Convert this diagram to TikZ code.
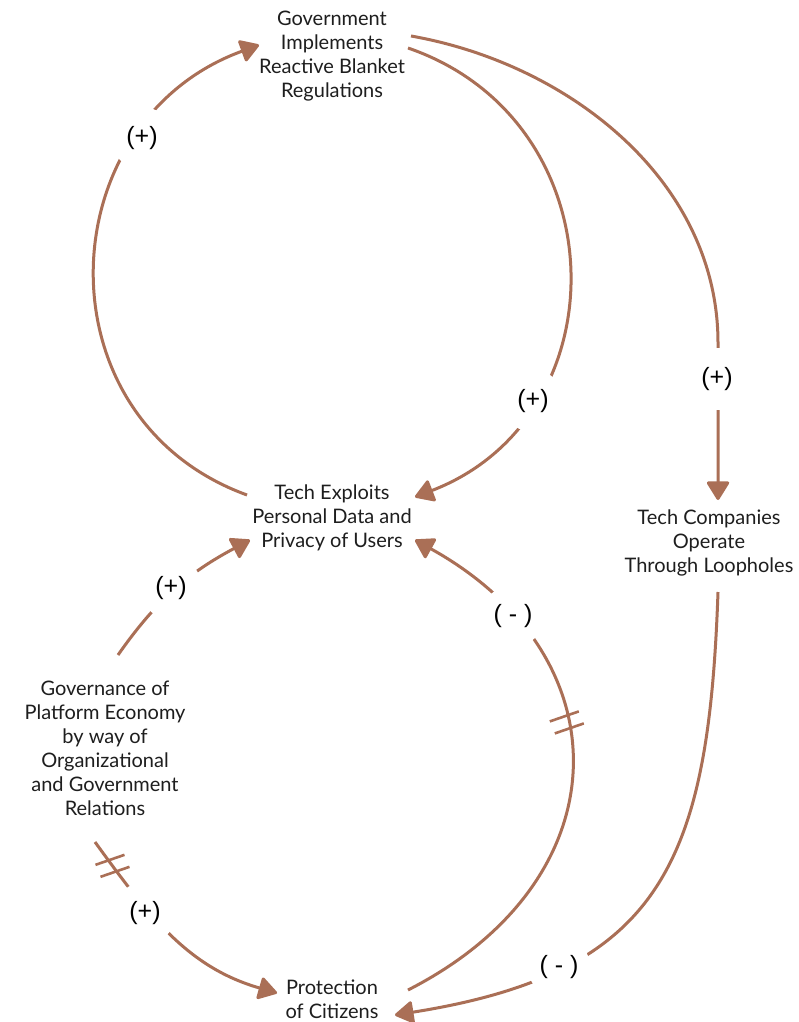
\documentclass[tikz,border=0pt]{standalone}
\usepackage{fontspec}
\setmainfont{Lato}
\newfontfamily\signfont{Liberation Sans}
\usetikzlibrary{arrows.meta,calc}
\definecolor{link}{RGB}{170,111,86}
\definecolor{ink}{RGB}{30,30,30}
\tikzset{
  factor/.style={font=\fontsize{20}{24}\selectfont, text=ink, align=center, inner sep=0pt},
  link line/.style={draw=link, line width=3pt},
  conn/.style={link line, -{Triangle[length=20pt,width=24pt,round]}},
  sign/.style={circle, fill=white, inner sep=0pt, minimum size=62pt,
    font=\signfont\fontsize{25}{25}\selectfont, text=black},
  delay/.pic={
    \draw[link line, line width=2.6pt] (-17,1) -- ++(29,10);
    \draw[link line, line width=2.6pt] (-12,-11) -- ++(29,10);
  }
}
\begin{document}
\begin{tikzpicture}[x=1pt,y=1pt]
  \fill[white] (0,0) rectangle (798,-1022);
  \useasboundingbox (0,0) rectangle (798,-1022);

  % factors of the causal loop
  \node[factor] (gov) at (332,-56) {Government\\Implements\\Reactive Blanket\\Regulations};
  \node[factor] (exploit) at (332,-518) {Tech Exploits\\Personal Data and\\Privacy of Users};
  \node[factor] (loop) at (709,-543) {Tech Companies\\Operate\\Through Loopholes};
  \node[factor] (platform) at (105,-748) {Governance of\\Platform Economy\\by way of\\Organizational\\and Government\\Relations};
  \node[factor] (protect) at (332,-999) {Protection\\of Citizens};

  % causal links
  \draw[conn] ($(exploit.center)+(-85,23)$) to[out=160,in=200,looseness=1.27] ($(gov.center)+(-73,11)$);
  \draw[conn] ($(gov.center)+(76,8)$) to[out=-19,in=21,looseness=1.27] ($(exploit.center)+(83,21)$);
  \draw[conn] ($(gov.center)+(79,20)$) to[out=-10,in=90,looseness=0.95] ($(loop.center)+(9,200)$) -- ($(loop.center)+(9,43)$);
  \draw[conn] ($(loop.center)+(9,-49)$) to[out=-92,in=9,looseness=1.3] ($(protect.center)+(63,-16)$);
  \draw[conn] ($(protect.center)+(76,9)$) to[out=27,in=-29,looseness=1.37] coordinate[pos=0.59] (d1) ($(exploit.center)+(83,-22)$);
  \draw[conn] ($(platform.center)+(13,93)$) to[out=55,in=208,looseness=1] ($(exploit.center)+(-82,-22)$);
  \draw[conn] ($(platform.center)+(-10,-94)$) to[out=-54,in=164,looseness=1] coordinate[pos=0.11] (d2) ($(protect.center)+(-55,6)$);

  % delay marks
  \pic at (d1) {delay};
  \pic at (d2) {delay};

  % link polarities
  \node[sign] (s1) at (142,-138) {(+)};
  \node[sign] (s2) at (533,-401) {(+)};
  \node[sign] (s3) at (717,-379) {(+)};
  \node[sign] (s4) at (171,-588) {(+)};
  \node[sign] (s5) at (145,-913) {(+)};
  \node[sign] (s6) at (513,-616) {( - )};
  \node[sign] (s7) at (559,-967) {( - )};
\end{tikzpicture}
\end{document}
